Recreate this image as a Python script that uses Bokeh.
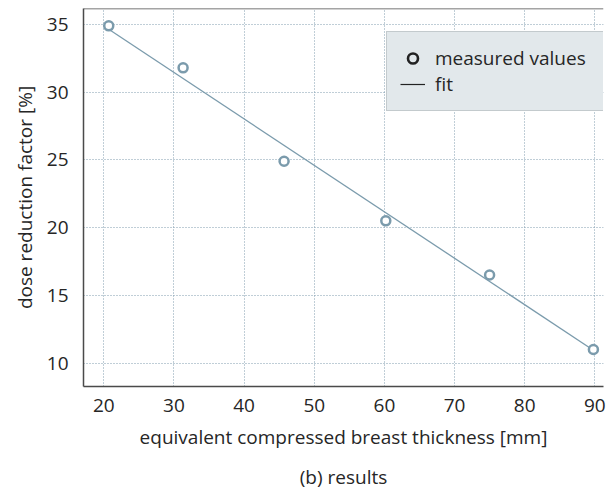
from bokeh.plotting import figure
from bokeh.models import Range1d, Span, Legend, LegendItem, Title
from bokeh.embed import file_html
from bokeh.resources import INLINE

# data
thickness = [20.7, 31.3, 45.7, 60.2, 75.0, 89.8]
reduction = [34.9, 31.8, 24.9, 20.5, 16.5, 11.0]
fit_x = [20.7, 89.8]
fit_y = [34.65, 10.95]
x_ticks = [20, 30, 40, 50, 60, 70, 80, 90]
y_ticks = [10, 15, 20, 25, 30, 35]

FONT = "Open Sans"
TXT = "#262626"
SERIES = "#7b9bac"
SPINE = "#4a4a4a"
NAN = float("nan")

y_end = 36.18
p = figure(frame_width=520, frame_height=378,
           x_range=Range1d(17.1, 91.24), y_range=Range1d(8.27, y_end),
           output_backend="svg", toolbar_location=None,
           min_border_top=8, min_border_right=8, min_border_left=83,
           background_fill_color="white", border_fill_color="white")
p.outline_line_color = None

p.line(fit_x, fit_y, line_color=SERIES, line_width=1.3)
p.scatter(thickness, reduction, marker="circle", size=9, fill_color="white",
          line_color=SERIES, line_width=2.5)

# legend-only renderers (black symbols, nothing drawn in the plot)
r_m = p.scatter(x=[NAN], y=[NAN], marker="circle", size=8, fill_color=None,
                line_color="#222222", line_width=2.6)
r_l = p.line(x=[NAN, NAN], y=[NAN, NAN], line_color="#222222", line_width=1.2)

legend = Legend(items=[LegendItem(label="measured values", renderers=[r_m]),
                       LegendItem(label="fit", renderers=[r_l])],
                location=(303, 275), glyph_width=25, glyph_height=26,
                label_height=26, label_standoff=10, padding=13, spacing=0,
                label_width=155, border_line_color="#a3abaf", border_line_width=1.5,
                background_fill_color="#e2e8eb", background_fill_alpha=1,
                label_text_font=FONT, label_text_font_size="19px",
                label_text_color=TXT)
p.add_layout(legend)

p.add_layout(Span(location=y_end, dimension="width", line_color=SPINE, line_width=1.5))

for ax, ticks in ((p.xaxis, x_ticks), (p.yaxis, y_ticks)):
    ax.ticker = ticks
    ax.major_tick_in = 0
    ax.major_tick_out = 0
    ax.minor_tick_in = 0
    ax.minor_tick_out = 0
    ax.axis_line_color = SPINE
    ax.axis_line_width = 1.5
    ax.major_label_text_font = FONT
    ax.major_label_text_font_size = "19px"
    ax.major_label_text_color = TXT
    ax.axis_label_text_font = FONT
    ax.axis_label_text_font_size = "19px"
    ax.axis_label_text_font_style = "normal"
    ax.axis_label_text_color = TXT

p.xaxis.axis_label = "equivalent compressed breast thickness [mm]"
p.yaxis.axis_label = "dose reduction factor [%]"
p.xaxis.major_label_standoff = 12
p.yaxis.major_label_standoff = 15
p.xaxis.axis_label_standoff = 9
p.yaxis.axis_label_standoff = 6

for g in (p.xgrid, p.ygrid):
    g.grid_line_color = "#809cae"
    g.grid_line_dash = "1 2"
    g.grid_line_width = 1

p.add_layout(Title(text="(b) results", align="center", text_font=FONT,
                   text_font_size="19px", text_font_style="normal",
                   text_color=TXT, standoff=18), "below")

open("out.html", "w").write(file_html(p, INLINE))
